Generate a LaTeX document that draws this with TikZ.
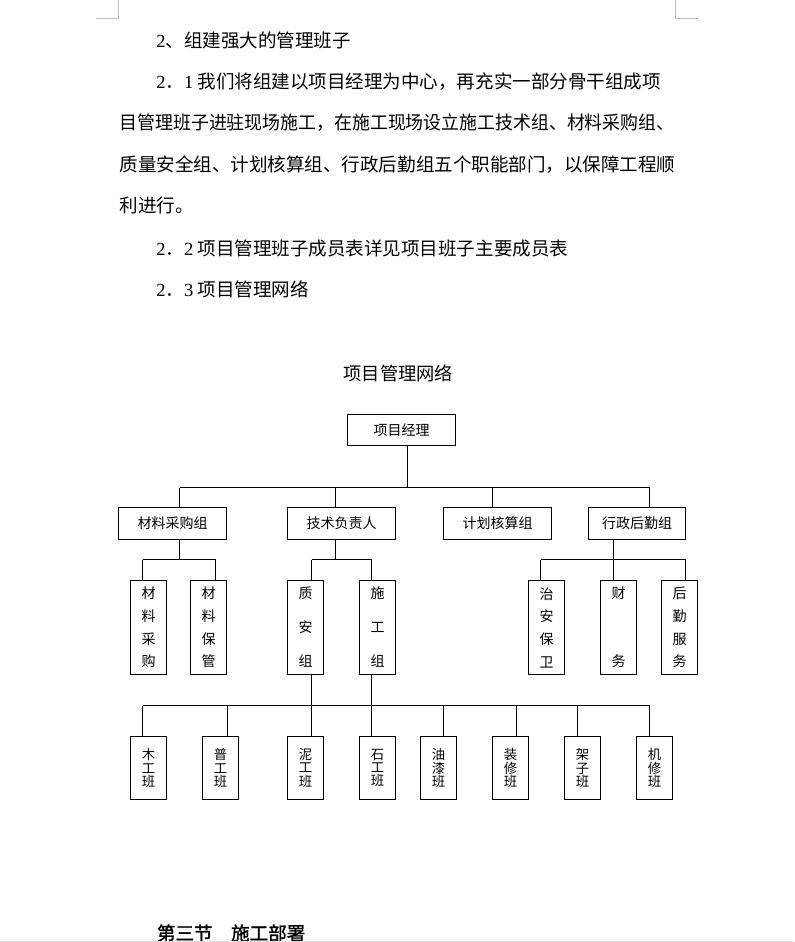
\documentclass[tikz,border=0pt]{standalone}
\usepackage{fontspec}
\setmainfont{Liberation Serif}
\newfontfamily\cjk{Noto Sans CJK SC}
\newfontfamily\cjkbf[FakeBold=1.5]{Noto Sans CJK SC}
\newfontfamily\lat{Liberation Serif}
\begin{document}
\begin{tikzpicture}[x=0.75pt,y=-0.75pt,line width=0.75pt]
\tikzset{
  bodytext/.style={anchor=west,inner sep=0,font=\cjk\fontsize{13.9}{13.9}\selectfont},
  boxbase/.style={draw,inner sep=0,align=center,outer sep=0},
  topbox/.style={boxbase,minimum width=81pt,minimum height=23.25pt,font=\cjk\fontsize{10.5}{10.5}\selectfont},
  midbox/.style={boxbase,minimum width=81pt,minimum height=24pt,font=\cjk\fontsize{10.5}{10.5}\selectfont},
  tallbox/.style={boxbase,minimum width=27pt,minimum height=70.5pt},
  lowbox/.style={boxbase,minimum width=27pt,minimum height=47.25pt,font=\cjk\fontsize{10}{10}\selectfont},
  fourch/.style={font=\cjk\fontsize{10.5}{17}\selectfont},
  threech/.style={font=\cjk\fontsize{10.5}{25.5}\selectfont},
  twoch/.style={font=\cjk\fontsize{10.5}{51}\selectfont},
  pagemark/.style={draw=black!25,line width=0.75pt}
}
\fill[white] (0,0) rectangle (794,942);
\useasboundingbox (0,0) rectangle (794,942);

% page corner marks
\draw[pagemark] (96,18.5) -- (118.5,18.5) -- (118.5,0);
\draw[pagemark] (698,18.5) -- (675.5,18.5) -- (675.5,0);

% body text
\node[bodytext] (l1) at (155.8,40) {{\lat 2}、组建强大的管理班子};
\node[bodytext] (l2) at (155.8,81.7) {{\lat 2}．{\lat 1}\ 我们将组建以项目经理为中心，再充实一部分骨干组成项};
\node[bodytext] (l3) at (119,122.7) {\scalebox{0.966}[1]{目管理班子进驻现场施工，在施工现场设立施工技术组、材料采购组、}};
\node[bodytext] (l4) at (119,164.3) {质量安全组、计划核算组、行政后勤组五个职能部门，以保障工程顺};
\node[bodytext] (l5) at (119,205) {利进行。};
\node[bodytext] (l6) at (155.8,248.3) {{\lat 2}．{\lat 2}\ 项目管理班子成员表详见项目班子主要成员表};
\node[bodytext] (l7) at (155.8,289.3) {{\lat 2}．{\lat 3}\ 项目管理网络};

% title
\node[inner sep=0,font=\cjk\fontsize{13.7}{13.7}\selectfont] (title) at (398.3,373.3) {项目管理网络};

% level 0
\node[topbox] (pm) at (401.5,430) {项目经理};
% level 1
\node[midbox] (cl) at (172.5,523.5) {材料采购组};
\node[midbox] (js) at (341.5,523.5) {技术负责人};
\node[midbox] (jh) at (497.5,523.5) {计划核算组};
\node[midbox,minimum width=72.75pt] (xz) at (637,523.5) {行政后勤组};
% level 2
\node[tallbox,fourch] (a1) at (148.5,627.5) {材\\料\\采\\购};
\node[tallbox,fourch] (a2) at (208.5,627.5) {材\\料\\保\\管};
\node[tallbox,threech] (b1) at (305.5,627.5) {质\\安\\组};
\node[tallbox,threech] (b2) at (377.5,627.5) {施\\工\\组};
\node[tallbox,fourch] (c1) at (546.5,627.5) {治\\安\\保\\卫};
\node[tallbox,twoch] (c2) at (618.5,627.5) {财\\务};
\node[tallbox,fourch] (c3) at (679.5,627.5) {后\\勤\\服\\务};
% level 3
\node[lowbox] (t1) at (148.5,768) {木\\工\\班};
\node[lowbox] (t2) at (220.5,768) {普\\工\\班};
\node[lowbox] (t3) at (305.5,768) {泥\\工\\班};
\node[lowbox] (t4) at (377.5,768) {石\\工\\班};
\node[lowbox] (t5) at (438.5,768) {油\\漆\\班};
\node[lowbox] (t6) at (510.5,768) {装\\修\\班};
\node[lowbox] (t7) at (582.5,768) {架\\子\\班};
\node[lowbox] (t8) at (654.5,768) {机\\修\\班};

% connectors level 0 -> 1
\coordinate (bus0) at (407.5,487.5);
\draw (pm.south -| bus0) -- (bus0);
\draw (179.5,487.5) -- (649.5,487.5);
\foreach \n/\x in {cl/179.5,js/335.5,jh/492.5,xz/649.5}
  \draw (\x,487.5) -- (\n.north -| \x,0);

% level 1 -> 2
\draw (cl.south -| 179.5,0) -- (179.5,559.5);
\draw (142.5,559.5) -- (215.5,559.5);
\draw (142.5,559.5) -- (a1.north -| 142.5,0);
\draw (215.5,559.5) -- (a2.north -| 215.5,0);

\draw (js.south -| 335.5,0) -- (335.5,559.5);
\draw (311.5,559.5) -- (371.5,559.5);
\draw (311.5,559.5) -- (b1.north -| 311.5,0);
\draw (371.5,559.5) -- (b2.north -| 371.5,0);

\draw (xz.south -| 613.5,0) -- (c2.north -| 613.5,0);
\draw (540.5,559.5) -- (685.5,559.5);
\draw (540.5,559.5) -- (c1.north -| 540.5,0);
\draw (685.5,559.5) -- (c3.north -| 685.5,0);

% level 2 -> 3
\draw (b1.south -| 311.5,0) -- (t3.north -| 311.5,0);
\draw (b2.south -| 371.5,0) -- (t4.north -| 371.5,0);
\draw (142.5,705.5) -- (649.5,705.5);
\foreach \n/\x in {t1/142.5,t2/227.5,t5/443.5,t6/516.5,t7/577.5,t8/649.5}
  \draw (\x,705.5) -- (\n.north -| \x,0);

% section heading cut by page edge
\begin{scope}
  \clip (0,0) rectangle (794,940.5);
  \node[anchor=west,inner sep=0,font=\cjkbf\fontsize{13.9}{13.9}\selectfont] (sec) at (156.5,933) {第三节　施工部署};
\end{scope}
\draw[draw=black!12,line width=1.2pt] (0,941.5) -- (794,941.5);
\end{tikzpicture}
\end{document}
